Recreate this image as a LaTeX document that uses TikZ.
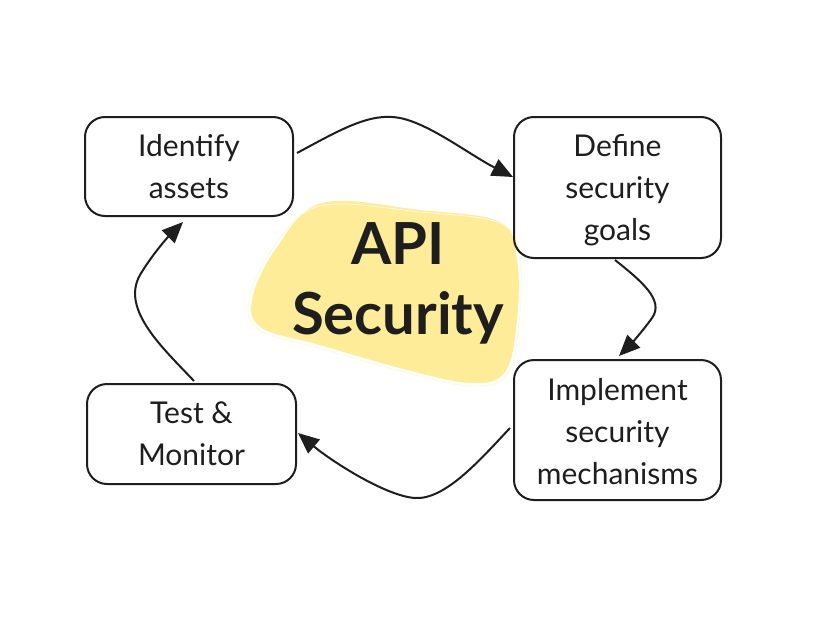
\documentclass[tikz,border=0pt]{standalone}
\usepackage{fontspec}
\setmainfont{Lato}
\newfontfamily\handfont{Lato Bold}
\usetikzlibrary{arrows.meta}
\definecolor{blobfill}{HTML}{FFEC99}
\definecolor{ink}{HTML}{1E1E1E}
\begin{document}
\begin{tikzpicture}[x=1pt,y=-1pt,
  stepbox/.style={draw=ink,line width=2pt,rounded corners=20pt,align=center,
    font=\fontsize{30}{42}\selectfont,text=ink,inner sep=0pt},
  flow/.style={draw=ink,line width=2pt,-{Triangle[length=21pt,width=18pt]}}]
\useasboundingbox (0,0) rectangle (813,621);
\fill[white] (0,0) rectangle (813,621);
% blob
\fill[blobfill] plot[smooth cycle,tension=0.6] coordinates {
  (322,203) (420,210) (500,222) (517,260) (517,320) (505,372) (470,383)
  (400,368) (320,345) (262,328) (252,300) (275,250)};
\draw[white!70!blobfill,line width=0.8pt] plot[smooth cycle,tension=0.6] coordinates {
  (320,206) (420,212) (502,224) (520,262) (519,322) (507,375) (470,386)
  (400,371) (318,348) (259,330) (249,300) (273,248)};
\node[font=\handfont\fontsize{58}{70}\selectfont,text=ink,align=center] (center) at (398,283) {API\\Security};
% boxes
\node[stepbox,minimum width=208pt,minimum height=99pt] (a) at (189,166.5) {Identify\\assets};
\node[stepbox,minimum width=207pt,minimum height=141pt] (b) at (617.5,187.5) {};
\node[font=\fontsize{30}{42}\selectfont,text=ink,align=center,inner sep=0pt] (bt) at (617.5,190) {Define\\security\\goals};
\node[stepbox,minimum width=207pt,minimum height=140pt] (c) at (617.5,430) {};
\node[font=\fontsize{30}{42}\selectfont,text=ink,align=center,inner sep=0pt] (ct) at (617.5,432) {Implement\\security\\mechanisms};
\node[stepbox,minimum width=209pt,minimum height=100pt] (d) at (191.5,434) {Test \&\\Monitor};
% connectors
\coordinate (a1) at (297,153);
\coordinate (b1) at (615,260);
\coordinate (c1) at (510,428);
\coordinate (d1) at (194,381);
\draw[flow] (a1) .. controls (340,130) and (370,112) .. (400,118) .. controls (430,124) and (470,155) .. (513,177);
\draw[flow] (b1) .. controls (640,280) and (665,300) .. (652,318) .. controls (642,332) and (630,345) .. (619,356);
\draw[flow] (c1) .. controls (480,460) and (445,500) .. (415,498) .. controls (385,496) and (330,460) .. (298,433);
\draw[flow] (d1) .. controls (165,350) and (120,310) .. (140,275) .. controls (150,258) and (165,240) .. (183,222);
\end{tikzpicture}
\end{document}
